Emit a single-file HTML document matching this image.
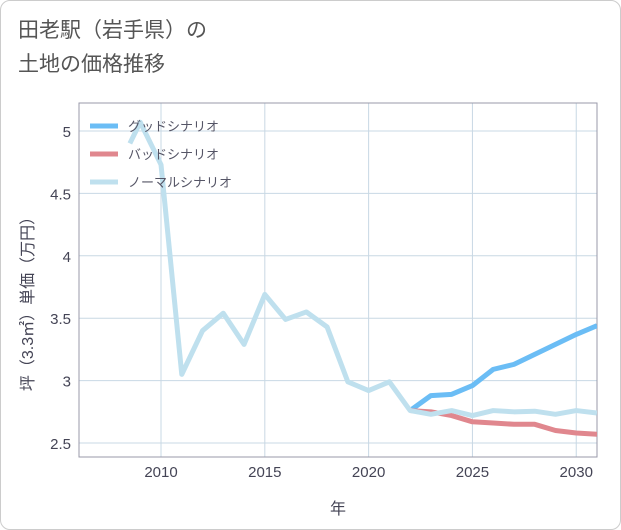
<!DOCTYPE html>
<html><head><meta charset="utf-8"><style>
body{margin:0;background:#fff;}
#card{position:absolute;left:0;top:0;width:619px;height:528px;border:1px solid #ccc;border-radius:10px;background:#fff;}
.t{font-family:"Liberation Sans","Noto Sans CJK JP",sans-serif;}
</style></head><body>
<div id="card"></div>
<div class="t" style="position:absolute;left:18px;top:14px;font-size:21px;line-height:34px;color:#555;">田老駅（岩手県）の<br>土地の価格推移</div>
<svg id="chart" width="621" height="530" style="position:absolute;left:0;top:0" xmlns="http://www.w3.org/2000/svg"></svg>
<script>
const normalYears=[2008.5,2009,2010,2011,2012,2013,2014,2015,2016,2017,2018,2019,2020,2021,2022,2023,2024,2025,2026,2027,2028,2029,2030,2031];
const normalVals=[4.90,5.07,4.73,3.05,3.40,3.54,3.29,3.69,3.49,3.55,3.43,2.99,2.92,2.99,2.76,2.73,2.76,2.72,2.76,2.75,2.755,2.73,2.76,2.74];
const futureYears=[2022,2023,2024,2025,2026,2027,2028,2029,2030,2031];
const goodVals=[2.76,2.88,2.89,2.96,3.09,3.13,3.21,3.29,3.37,3.44];
const badVals=[2.76,2.75,2.72,2.67,2.66,2.65,2.65,2.60,2.58,2.57];
const xTicks=[2010,2015,2020,2025,2030];
const yTicks=[2.5,3,3.5,4,4.5,5];
const L=79,R=597,T=103,B=457,X0=2006.05,X1=2031.0,Y0=2.388,Y1=5.224;
const sx=v=>L+(v-X0)/(X1-X0)*(R-L);
const sy=v=>B-(v-Y0)/(Y1-Y0)*(B-T);
const svg=document.getElementById('chart');
const NS='http://www.w3.org/2000/svg';
function mk(tag,attrs){const e=document.createElementNS(NS,tag);for(const k in attrs)e.setAttribute(k,attrs[k]);svg.appendChild(e);return e;}
xTicks.forEach(v=>{
 const g=mk('line',{x1:sx(v),x2:sx(v),y1:T,y2:B,stroke:'#c8d8e4','stroke-width':1});
 
 
 const t=mk('text',{x:sx(v),y:B+20,'text-anchor':'middle','font-size':15,fill:'#445','font-family':'Liberation Sans, sans-serif'});
 t.textContent=v;
 
 
});
yTicks.forEach(v=>{
 const g=mk('line',{x1:L,x2:R,y1:sy(v),y2:sy(v),stroke:'#c8d8e4','stroke-width':1});
 
 
 const t=mk('text',{x:L-8,y:sy(v)+6,'text-anchor':'end','font-size':15,fill:'#445','font-family':'Liberation Sans, sans-serif'});
 t.textContent=v;
 
 
});
const frame=mk('rect',{x:L,y:T,width:R-L,height:B-T,fill:'none',stroke:'#99a','stroke-width':1});


const clip=mk('clipPath',{id:'c'});mk('rect',{x:L,y:T,width:R-L,height:B-T}).remove();
const cr=document.createElementNS(NS,'rect');cr.setAttribute('x',L);cr.setAttribute('y',T);cr.setAttribute('width',R-L);cr.setAttribute('height',B-T);clip.appendChild(cr);
function line(xs,ys,color,name){
 const p=mk('polyline',{points:xs.map((x,i)=>sx(x)+','+sy(ys[i])).join(' '),fill:'none',stroke:color,'stroke-width':5,'stroke-linejoin':'round','clip-path':'url(#c)'});
 
 
}
line(futureYears,goodVals,'#6bbdf5','good-scenario-line');
line(futureYears,badVals,'#e0878e','bad-scenario-line');
line(normalYears,normalVals,'#bfe0ee','normal-scenario-line');
const leg=[['グッドシナリオ','#6bbdf5'],['バッドシナリオ','#e0878e'],['ノーマルシナリオ','#bfe0ee']];
leg.forEach((d,i)=>{
 const y=126+i*28;
 const l=mk('line',{x1:90,x2:118,y1:y,y2:y,stroke:d[1],'stroke-width':5});
 
 
 const t=mk('text',{x:128,y:y+5,'font-size':13,fill:'#556','font-family':'Liberation Sans, Noto Sans CJK JP, sans-serif'});
 t.textContent=d[0];
 
 
});
const xt=mk('text',{x:338,y:514,'text-anchor':'middle','font-size':16,fill:'#445','font-family':'Liberation Sans, Noto Sans CJK JP, sans-serif'});
xt.textContent='年';


const yt=mk('text',{x:0,y:0,'text-anchor':'middle','font-size':16,fill:'#445','font-family':'Liberation Sans, Noto Sans CJK JP, sans-serif',transform:'translate(33,300) rotate(-90)'});
yt.textContent='坪（3.3㎡）単価（万円）';


</script>
</body></html>
